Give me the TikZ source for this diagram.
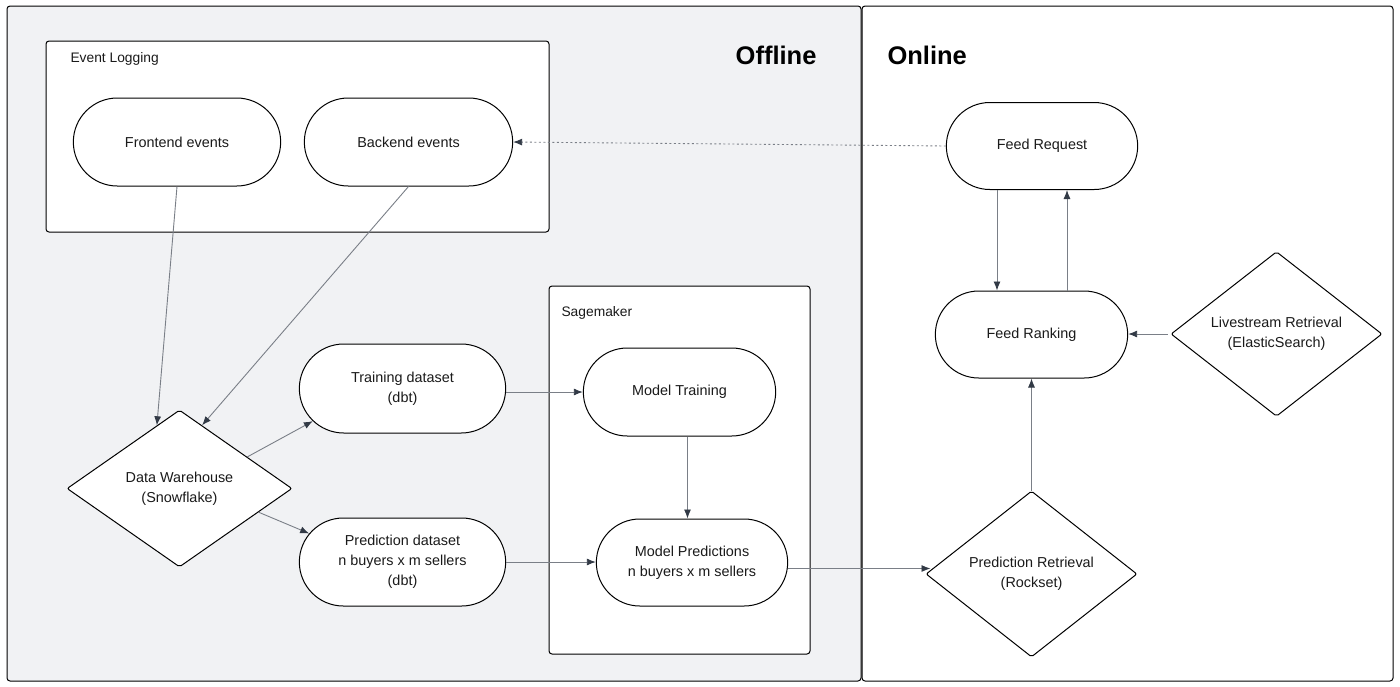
\documentclass[tikz,border=0pt]{standalone}
\usepackage{fontspec}
\setmainfont{Liberation Sans}
\usetikzlibrary{shapes.geometric,shapes.misc,arrows.meta,calc}
\definecolor{offbg}{HTML}{F1F2F4}
\definecolor{lineGray}{HTML}{7A7F87}
\definecolor{arrowDark}{HTML}{323A46}
\definecolor{txt}{HTML}{1A1A1A}
\tikzset{
  panel/.style={draw=black, line width=1pt, rounded corners=3pt},
  group/.style={draw=black, line width=1pt, fill=white, rounded corners=3pt},
  stadium/.style={rounded rectangle, draw=black, line width=1pt, fill=white,
    minimum width=214pt, minimum height=88pt, align=center, text=txt,
    font=\fontsize{14.4}{20}\selectfont},
  decision/.style={diamond, draw=black, line width=1pt, fill=white, rounded corners=2pt,
    align=center, text=txt, inner sep=0pt, font=\fontsize{14.4}{20}\selectfont},
  conn/.style={draw=lineGray, line width=0.9pt, -{Latex[length=9pt,width=7pt,color=arrowDark]}},
  dotconn/.style={conn, dash pattern=on 2pt off 2.5pt},
  grouplabel/.style={anchor=west, text=txt, font=\fontsize{13.8}{16}\selectfont},
  title/.style={font=\fontsize{25.5}{30}\selectfont\bfseries, text=black}
}
\begin{document}
\begin{tikzpicture}[x=1pt,y=-1pt]
\useasboundingbox (0,0) rectangle (1400,686);
\fill[white] (0,0) rectangle (1400,686);
% panels
\draw[panel, fill=offbg] (7,6) rectangle (861,681);
\draw[panel, fill=white] (862,6) rectangle (1393,681);
\node[title, anchor=east] (offt) at (820,55) {Offline};
\node[title, anchor=west] (ont) at (884,55) {Online};
% groups
\draw[group] (46,41) rectangle (549,232);
\node[grouplabel] (elab) at (67,59) {Event Logging};
\draw[group] (549,286) rectangle (810,654);
\node[grouplabel] (slab) at (558,313) {Sagemaker};
% nodes
\node[stadium] (fe) at (177,142) {Frontend events};
\node[stadium, minimum width=215pt] (be) at (408.5,142) {Backend events};
\node[stadium, minimum width=198pt, minimum height=87pt] (freq) at (1042,146) {Feed Request};
\node[stadium, minimum width=199pt, minimum height=87pt] (fr) at (1031.5,334.5) {Feed Ranking};
\node[decision, minimum width=211pt, minimum height=164pt] (lr) at (1276.5,334) {Livestream Retrieval\\(ElasticSearch)};
\node[decision, minimum width=211pt, minimum height=166pt] (pr) at (1031.5,574) {Prediction Retrieval\\(Rockset)};
\node[decision, minimum width=225pt, minimum height=157pt] (dw) at (179.5,488.5) {Data Warehouse\\(Snowflake)};
\node[stadium, minimum width=213pt, minimum height=89pt] (td) at (402.5,388.5) {Training dataset\\(dbt)};
\node[stadium, minimum width=213pt] (pd) at (402.5,562) {Prediction dataset\\n buyers x m sellers\\(dbt)};
\node[stadium, minimum width=199pt] (mt) at (679.5,392) {Model Training};
\node[stadium, minimum width=198pt, minimum height=87pt] (mp) at (692,562.5) {Model Predictions\\n buyers x m sellers};
% connectors
\draw[conn] (fe.south) -- ($(dw.north)!0.2!(dw.west)$);
\draw[conn] (be.south) -- ($(dw.north)!0.2!(dw.east)$);
\draw[conn] ($(dw.north)!0.6!(dw.east)$) -- (td.200);
\draw[conn] ($(dw.east)!0.3!(dw.south)$) -- (pd.163);
\draw[conn] (td.east |- mt.west) -- (mt.west);
\draw[conn] ([xshift=8pt]mt.south) -- ([xshift=8pt]mt.south |- mp.north);
\draw[conn] (pd.east) -- (pd.east -| mp.west);
\draw[conn] ([yshift=-6pt]mp.east) -- ([yshift=-6pt,xshift=5pt]mp.east -| pr.west);
\draw[conn] (pr.north) -- (fr.south);
\draw[conn] ([xshift=-3pt]lr.west) -- (lr.west -| fr.east);
\draw[conn] ([xshift=-45pt]freq.south) -- ([xshift=-45pt]freq.south |- fr.north);
\draw[conn] ([xshift=35.5pt]fr.north) -- ([xshift=35.5pt]fr.north |- freq.south);
\draw[dotconn] (freq.west) -- (be.east);
\end{tikzpicture}
\end{document}
